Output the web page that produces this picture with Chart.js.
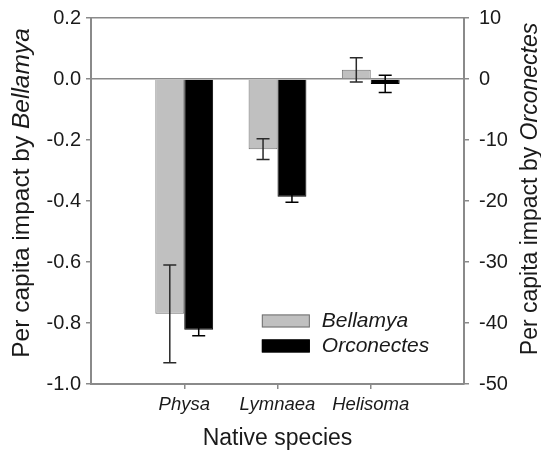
<!DOCTYPE html>
<html>
<head>
<meta charset="utf-8">
<title>Per capita impact</title>
<script src="https://cdn.jsdelivr.net/npm/chart.js@4.4.0/dist/chart.umd.min.js"></script>
<style>
  body { margin: 0; background: #fff; }
  canvas { display: block; }
</style>
</head>
<body>
<canvas id="impact-chart" width="541" height="452"></canvas>
<script>
// Native species on the x axis
const categories = ['Physa', 'Lymnaea', 'Helisoma'];

// Per capita impact by Bellamya (left axis) and its error
const bellamya = [-0.77, -0.23, 0.03];
const bellamyaErr = [0.16, 0.034, 0.04];

// Per capita impact by Orconectes (right axis) and its error
const orconectes = [-41.1, -19.3, -0.8];
const orconectesErr = [1.0, 0.9, 1.4];

// Tick labels for both y axes
const leftTicks = [0.2, 0.0, -0.2, -0.4, -0.6, -0.8, -1.0];
const rightTicks = [10, 0, -10, -20, -30, -40, -50];

const FONT = "'Liberation Sans', Arial, Helvetica, sans-serif";
const AXIS_GREY = '#8a8a8a';
const TEXT = '#1a1a1a';

// pad the category axis with an empty slot on each side so the groups
// sit at 1/4, 1/2 and 3/4 of the plot width like the original
const labels = ['', ...categories, ''];
const pad = arr => [null, ...arr, null];

// Draw the error bars on top of the bars
const errorBars = {
    id: 'errorBars',
    afterDatasetsDraw(chart) {
        const ctx = chart.ctx;
        chart.data.datasets.forEach((ds, i) => {
            const meta = chart.getDatasetMeta(i);
            const yScale = chart.scales[meta.yAxisID];
            meta.data.forEach((bar, j) => {
                const v = ds.data[j];
                const e = ds.errors[j];
                if (v === null || e === null) return;
                const top = yScale.getPixelForValue(v + e);
                const bottom = yScale.getPixelForValue(v - e);
                const x = bar.x;
                ctx.save();
                ctx.strokeStyle = ds.errorColor;
                ctx.lineWidth = 1.5;
                ctx.beginPath();
                ctx.moveTo(x, top);
                ctx.lineTo(x, bottom);
                ctx.moveTo(x - 6.5, top);
                ctx.lineTo(x + 6.5, top);
                ctx.moveTo(x - 6.5, bottom);
                ctx.lineTo(x + 6.5, bottom);
                ctx.stroke();
                ctx.restore();
            });
        });
    }
};

// Write a line of text where some words are italic
function drawMixed(ctx, parts, x, y, angle, size) {
    ctx.save();
    ctx.translate(x, y);
    ctx.rotate(angle);
    ctx.textBaseline = 'middle';
    ctx.textAlign = 'left';
    ctx.fillStyle = TEXT;
    const fonts = parts.map(p => (p.italic ? 'italic ' : '') + size + 'px ' + FONT);
    let total = 0;
    parts.forEach((p, i) => {
        ctx.font = fonts[i];
        total += ctx.measureText(p.text).width;
    });
    let cx = -total / 2;
    parts.forEach((p, i) => {
        ctx.font = fonts[i];
        ctx.fillText(p.text, cx, 0);
        cx += ctx.measureText(p.text).width;
    });
    ctx.restore();
}

// Axis titles and the legend inside the plot
const titlesAndLegend = {
    id: 'titlesAndLegend',
    afterDraw(chart) {
        const ctx = chart.ctx;
        const area = chart.chartArea;

        drawMixed(ctx, [{ text: 'Per capita impact by ' }, { text: 'Bellamya', italic: true }],
            22, 193, -Math.PI / 2, 24.5);
        drawMixed(ctx, [{ text: 'Per capita impact by ' }, { text: 'Orconectes', italic: true }],
            531, 189, -Math.PI / 2, 23);
        drawMixed(ctx, [{ text: 'Native species' }], (area.left + area.right) / 2, 439, 0, 23);

        // legend
        const lx = area.left + 0.458 * (area.right - area.left);
        const ly = area.top + 0.81 * (area.bottom - area.top);
        chart.data.datasets.forEach((ds, i) => {
            const y = ly + i * 25;
            ctx.save();
            ctx.fillStyle = ds.backgroundColor;
            ctx.strokeStyle = ds.borderColor;
            ctx.lineWidth = 1;
            ctx.fillRect(lx, y, 48, 13);
            ctx.strokeRect(lx + 0.5, y + 0.5, 47, 12);
            ctx.fillStyle = TEXT;
            ctx.font = 'italic 21px ' + FONT;
            ctx.textBaseline = 'middle';
            ctx.fillText(ds.label, lx + 60, y + 7);
            ctx.restore();
        });
    }
};

// fixed axis sizes so the plot area lands where the original has it
function fixWidth(w) {
    return scale => {
        scale.width = w;
        scale.paddingTop = 0;
        scale.paddingBottom = 0;
    };
}

const ctx = document.getElementById('impact-chart').getContext('2d');
new Chart(ctx, {
    type: 'bar',
    data: {
        labels: labels,
        datasets: [
            {
                label: 'Bellamya',
                data: pad(bellamya),
                errors: pad(bellamyaErr),
                errorColor: '#2a2a2a',
                yAxisID: 'y',
                backgroundColor: '#c0c0c0',
                borderColor: '#707070',
                borderWidth: 1
            },
            {
                label: 'Orconectes',
                data: pad(orconectes),
                errors: pad(orconectesErr),
                errorColor: '#000000',
                yAxisID: 'y2',
                backgroundColor: '#000000',
                borderColor: '#000000',
                borderWidth: 1
            }
        ]
    },
    options: {
        responsive: false,
        animation: false,
        layout: { padding: { top: 18 } },
        datasets: {
            bar: { categoryPercentage: 0.62, barPercentage: 1 }
        },
        plugins: {
            legend: { display: false },
            tooltip: { enabled: false }
        },
        scales: {
            x: {
                offset: false,
                grid: {
                    offset: false,
                    drawOnChartArea: false,
                    tickLength: 5,
                    lineWidth: 1.5,
                    tickColor: c => (c.index === 0 || c.index === labels.length - 1) ? 'transparent' : AXIS_GREY
                },
                border: { color: AXIS_GREY, width: 2 },
                ticks: {
                    autoSkip: false,
                    maxRotation: 0,
                    padding: 5,
                    color: TEXT,
                    font: { family: FONT, size: 18.5, style: 'italic' }
                },
                afterFit: scale => {
                    scale.height = 68;
                    scale.paddingLeft = 0;
                    scale.paddingRight = 0;
                }
            },
            y: {
                position: 'left',
                min: -1.0,
                max: 0.2,
                afterBuildTicks: scale => { scale.ticks = leftTicks.map(v => ({ value: v })); },
                grid: {
                    tickLength: 5,
                    lineWidth: 1.5,
                    color: c => (c.tick && (Math.abs(c.tick.value) < 1e-9 || Math.abs(c.tick.value - 0.2) < 1e-9)) ? AXIS_GREY : 'transparent',
                    tickColor: AXIS_GREY
                },
                border: { color: AXIS_GREY, width: 2 },
                ticks: {
                    padding: 5,
                    color: TEXT,
                    font: { family: FONT, size: 20 },
                    callback: v => v.toFixed(1)
                },
                afterFit: fixWidth(91)
            },
            y2: {
                position: 'right',
                min: -50,
                max: 10,
                afterBuildTicks: scale => { scale.ticks = rightTicks.map(v => ({ value: v })); },
                grid: {
                    drawOnChartArea: false,
                    tickLength: 5,
                    lineWidth: 1.5,
                    tickColor: AXIS_GREY
                },
                border: { color: AXIS_GREY, width: 2 },
                ticks: {
                    padding: 10,
                    color: TEXT,
                    font: { family: FONT, size: 20 }
                },
                afterFit: fixWidth(77)
            }
        }
    },
    plugins: [errorBars, titlesAndLegend]
});
</script>
</body>
</html>
